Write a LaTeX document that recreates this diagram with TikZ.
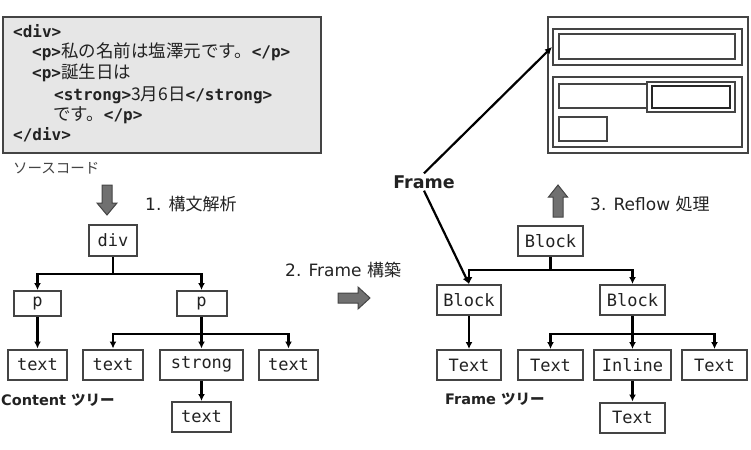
\documentclass[tikz,border=0pt]{standalone}
\usepackage{fontspec}
\setmainfont{DejaVu Sans}
\newfontfamily\jpfont{Noto Sans CJK JP}
\newfontfamily\monofont{DejaVu Sans Mono}
\usetikzlibrary{arrows.meta,calc}
\definecolor{bord}{HTML}{444444}
\definecolor{srcfill}{HTML}{E6E6E6}
\definecolor{arrfill}{HTML}{707070}
\definecolor{txt}{HTML}{222222}
\newcommand\srctag[1]{{\monofont\bfseries\fontsize{16}{18}\selectfont #1}}
\newcommand\srcjp[1]{{\jpfont\fontsize{17.5}{18}\selectfont #1}}
\newcommand\jpb[1]{{\jpfont\bfseries #1}}
\tikzset{
  treebox/.style={draw=bord, line width=2pt, fill=white, text=txt,
    font=\monofont\fontsize{17}{20}\selectfont, inner sep=0pt, minimum height=30pt},
  conn/.style={line width=2.6pt, draw=black},
  tip/.style={-{Latex[length=7pt,width=7pt]}},
  blockarrow/.style={fill=arrfill, draw=bord, line width=1pt},
  scr/.style={draw=bord, line width=2pt},
  srcline/.style={anchor=base west, inner sep=0pt, text=txt},
  lbl/.style={text=txt, inner sep=0pt, font=\fontsize{17}{20}\selectfont},
  blbl/.style={text=txt, inner sep=0pt, font=\fontsize{14.5}{18}\selectfont\bfseries}
}
\begin{document}
\begin{tikzpicture}[x=1pt,y=-1pt]
\useasboundingbox (0,0) rectangle (751,449);
\clip (0,0) rectangle (751,449);
% source code box
\draw[fill=srcfill, draw=bord, line width=2pt] (3,17) rectangle (321,153);
\node[srcline] (s1) at (13,38) {\srctag{<div>}};
\node[srcline] (s2) at (32,58) {\srctag{<p>}\srcjp{私の名前は塩澤元です。}\srctag{</p>}};
\node[srcline] (s3) at (32,79) {\srctag{<p>}\srcjp{誕生日は}};
\node[srcline] (s4) at (54,101) {\srctag{<strong>}\srcjp{3月6日}\srctag{</strong>}};
\node[srcline] (s5) at (53,121) {\srcjp{です。}\srctag{</p>}};
\node[srcline] (s6) at (13,141) {\srctag{</div>}};
\node[anchor=west, inner sep=0pt, text=bord, font=\jpfont\fontsize{14.5}{16}\selectfont] (srclbl) at (13,168) {ソースコード};

% block arrows
\draw[blockarrow] (102,185) -- (112,185) -- (112,203) -- (117,203) -- (107,215) -- (97,203) -- (102,203) -- cycle;
\draw[blockarrow] (553,217) -- (563,217) -- (563,197) -- (567.5,197) -- (558,185) -- (548.5,197) -- (553,197) -- cycle;
\draw[blockarrow] (338,293) -- (358,293) -- (358,287) -- (370,298) -- (358,309) -- (358,303) -- (338,303) -- cycle;

% labels
\node[lbl, anchor=west] (l1) at (145,204) {1. \jpfont 構文解析};
\node[lbl, anchor=west] (l2) at (285,270) {2. Frame \jpfont 構築};
\node[lbl, anchor=west] (l3) at (590,204) {3. Reflow \jpfont 処理};
\node[blbl, anchor=west] (ct) at (1,400) {Content \jpb{ツリー}};
\node[blbl, anchor=west] (ft) at (445,399) {Frame \jpb{ツリー}};

% content tree
\node[treebox, minimum width=48pt, minimum height=31pt] (div) at (113,240.5) {div};
\node[treebox, minimum width=47pt, minimum height=25pt] (p1) at (37.5,303.5) {p};
\node[treebox, minimum width=50pt, minimum height=25pt] (p2) at (201.5,303.5) {p};
\node[treebox, minimum width=59pt] (t1) at (37.5,364.5) {text};
\node[treebox, minimum width=60pt] (t2) at (113,364.5) {text};
\node[treebox, minimum width=83pt] (strong) at (201.5,364.5) {strong};
\node[treebox, minimum width=59pt] (t3) at (288.5,364.5) {text};
\node[treebox, minimum width=59pt] (t4) at (201.5,417) {text};
\coordinate (j1) at ($(div.south)+(0,17)$);
\draw[conn] (div.south) -- (j1);
\draw[conn,tip] (j1) -| (p1.north);
\draw[conn,tip] (j1) -| (p2.north);
\draw[conn,tip] (p1.south) -- (t1.north);
\coordinate (j2) at ($(p2.south)+(0,17)$);
\draw[conn,tip] (p2.south) -- (strong.north);
\draw[conn,tip] (j2) -| (t2.north);
\draw[conn,tip] (j2) -| (t3.north);
\draw[conn,tip] (strong.south) -- (t4.north);

% frame tree
\node[treebox, minimum width=65pt] (B0) at (550.5,241) {Block};
\node[treebox, minimum width=64pt] (B1) at (469,300) {Block};
\node[treebox, minimum width=65pt] (B2) at (632.5,300) {Block};
\node[treebox, minimum width=64pt] (T1) at (469,365) {Text};
\node[treebox, minimum width=65pt] (T2) at (550.5,365) {Text};
\node[treebox, minimum width=77pt] (IN) at (632.5,365) {Inline};
\node[treebox, minimum width=65pt] (T3) at (714.5,365) {Text};
\node[treebox, minimum width=65pt] (T4) at (632.5,417.5) {Text};
\coordinate (j3) at ($(B0.south)+(0,13)$);
\draw[conn] (B0.south) -- (j3);
\draw[conn,tip] (j3) -| (B1.north);
\draw[conn,tip] (j3) -| (B2.north);
\draw[conn,tip] (B1.south) -- (T1.north);
\coordinate (j4) at ($(B2.south)+(0,18)$);
\draw[conn,tip] (B2.south) -- (IN.north);
\draw[conn,tip] (j4) -| (T2.north);
\draw[conn,tip] (j4) -| (T3.north);
\draw[conn,tip] (IN.south) -- (T4.north);

% screen
\draw[scr] (548,17) rectangle (748,153);
\node[scr, minimum width=189pt, minimum height=36pt, inner sep=0pt] (r1) at (647.5,47) {};
\draw[scr] (559,34) rectangle (735,59);
\draw[scr] (553,77) rectangle (742,147);
\draw[scr] (559,84) rectangle (647,108);
\draw[scr] (647,82) rectangle (735,112);
\draw[draw=black!85, line width=2.6pt] (652,86) rectangle (730,108);
\draw[scr] (559,117) rectangle (607,141);

% Frame label and arrows
\node[text=txt, font=\fontsize{17.5}{20}\selectfont\bfseries, inner sep=2pt] (frm) at (424,182) {Frame};
\draw[conn, line width=2.2pt, tip] (frm.north) -- (r1.west);
\draw[conn, line width=2.2pt, tip] (frm.south) -- (B1.north);
\end{tikzpicture}
\end{document}
